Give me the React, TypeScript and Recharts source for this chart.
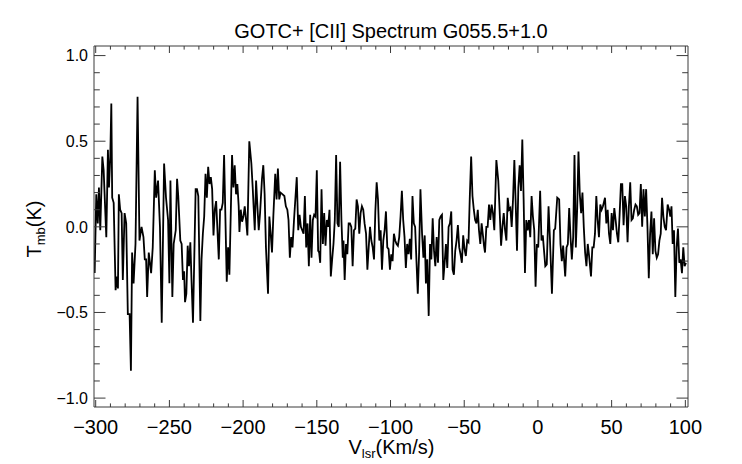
import React from "react";
import { LineChart, Line, XAxis, YAxis } from "recharts";

// ---- data (velocity in km/s, Tmb in K) ----
const velA = [
  -300.7, -299.6, -298.6, -297.8, -296.9, -295.5, -294.6, -292.8, -291.7, -291.0,
  -290.1, -289.4, -288.8, -287.8, -286.5, -285.6, -284.9, -284.3, -283.4, -282.4,
  -281.6, -280.4, -279.3, -278.2, -277.0, -276.1, -275.3, -274.3, -273.0, -271.6,
  -270.3, -268.9, -267.6, -266.7, -265.8, -265.1, -264.0, -262.4, -261.3, -259.9,
  -259.0, -257.7, -256.4, -255.2, -253.6, -252.3, -250.9, -250.0, -249.3,
];
const tmbA = [
  -0.27, 0.19, 0.02, 0.23, -0.02, 0.41, 0.33, -0.06, 0.45, 0.23,
  0.41, 0.72, 0.17, 0.14, -0.37, -0.29, -0.36, 0.19, 0.1, 0.08,
  -0.31, 0.08, 0.02, -0.51, -0.51, -0.84, -0.15, -0.33, -0.1, 0.76,
  -0.08, 0.0, -0.06, -0.19, -0.19, -0.41, -0.15, -0.27, -0.12, 0.33,
  0.17, 0.27, 0.0, -0.56, 0.37, 0.17, 0.04, -0.33, 0.27,
];

const velB = [
  -248.0, -247.1, -245.7, -244.8, -244.0, -242.6, -241.7, -240.8, -240.0, -239.4,
  -238.5, -237.6, -236.7, -235.8, -235.0, -234.0, -232.2, -231.3, -230.4, -229.0,
  -228.2, -227.3, -226.4, -225.5, -224.6, -223.7, -222.8, -221.9, -221.0, -220.1,
  -219.2, -218.3, -216.5, -215.6, -214.7, -213.8, -212.9, -211.1, -210.2, -209.3,
  -207.5, -206.6, -205.7, -204.8, -203.9, -203.0, -202.5, -201.6, -200.7, -199.8,
  -198.9, -198.0, -197.1, -195.8, -194.4, -193.5, -192.1, -191.2, -190.3, -189.4,
  -188.5, -187.2, -186.3, -185.4, -184.5, -183.1, -182.2, -181.3, -180.4, -179.5,
  -178.2, -177.3, -176.4, -175.5, -174.6, -173.2, -172.0, -171.0, -170.0, -169.2,
  -168.3, -167.4, -166.5, -165.4, -163.6,
];
const tmbB = [
  -0.41, -0.1, -0.02, 0.28, 0.18, -0.08, -0.1, -0.31, -0.26, -0.44,
  -0.39, -0.11, -0.23, -0.09, -0.31, -0.56, 0.22, 0.22, 0.18, -0.55,
  -0.19, -0.04, 0.06, 0.31, 0.17, 0.35, 0.25, 0.29, 0.22, -0.05,
  0.1, 0.15, -0.19, 0.1, 0.1, 0.14, 0.42, -0.32, -0.12, -0.28,
  0.42, 0.23, 0.36, 0.19, 0.25, 0.12, -0.03, 0.1, 0.03, 0.06,
  0.12, 0.04, -0.05, 0.5, 0.37, 0.23, -0.02, 0.27, 0.12, -0.02,
  0.08, 0.28, 0.36, 0.19, -0.12, -0.39, 0.06, -0.04, -0.15, 0.06,
  0.31, 0.16, 0.34, 0.16, 0.2, 0.19, 0.18, 0.12, 0.1, 0.04,
  -0.18, -0.06, -0.12, 0.05, 0.29,
];

const velC = [
  -162.6, -161.7, -160.8, -159.9, -159.0, -158.1, -157.2, -156.3, -155.4, -154.5,
  -153.6, -152.7, -151.8, -150.9, -150.0, -149.1, -148.4, -147.7, -146.8, -145.9,
  -145.0, -144.1, -143.2, -142.3, -141.4, -140.5, -139.6, -138.7, -137.8, -136.9,
  -136.0, -135.1, -134.2, -133.3, -132.4, -131.9, -131.1, -130.2, -129.3, -128.4,
  -127.5, -126.6, -125.7, -124.8, -123.9, -123.0, -122.1, -121.2, -120.3, -119.4,
  -118.5, -117.6, -116.6, -115.7, -114.8, -113.9, -113.0, -112.1, -111.2, -110.3,
  -109.4, -108.5, -107.6, -106.7, -105.8, -104.9, -104.0, -103.1, -102.2, -101.3,
  -100.4, -99.5, -98.6, -97.7, -96.8, -95.9, -95.0, -94.1, -93.2, -92.3,
  -91.4, -90.5, -89.6, -88.7, -87.8, -86.9, -86.0, -85.1, -84.2, -83.3,
  -82.4, -81.5, -80.6, -79.7,
];
const tmbC = [
  -0.02, 0.07, 0.0, -0.02, -0.04, 0.18, -0.12, 0.02, -0.23, 0.07,
  -0.18, 0.04, 0.07, 0.06, 0.33, -0.14, -0.15, -0.21, 0.22, -0.1,
  0.08, -0.11, 0.04, 0.0, 0.1, -0.29, -0.19, -0.1, 0.04, 0.42,
  0.02, 0.0, 0.38, 0.04, -0.18, -0.08, -0.31, -0.1, -0.16, 0.02,
  0.02, 0.0, -0.23, -0.02, -0.01, 0.16, 0.12, -0.04, 0.08, 0.12,
  0.1, 0.02, -0.04, -0.25, -0.12, 0.0, -0.08, -0.12, -0.19, 0.09,
  0.26, 0.16, -0.08, -0.02, -0.25, -0.08, -0.02, 0.09, -0.12, -0.13,
  -0.25, -0.16, -0.2, -0.04, -0.08, -0.1, -0.11, -0.06, 0.06, 0.21,
  0.04, -0.06, -0.24, -0.1, -0.16, -0.07, -0.19, 0.18, 0.02, 0.0,
  -0.2, -0.39, -0.15, 0.22,
];

const velD = [
  -78.6, -77.7, -76.8, -76.0, -75.1, -74.1, -73.2, -72.3, -71.4, -70.5,
  -69.6, -68.7, -67.8, -66.9, -66.0, -65.1, -64.2, -63.3, -62.4, -61.5,
  -60.6, -59.7, -58.8, -57.9, -57.0, -56.1, -55.2, -54.3, -53.4, -52.5,
  -51.6, -50.7, -49.8, -48.9, -48.0, -47.1, -46.2, -45.3, -44.4, -43.5,
  -42.6, -41.7, -40.8, -40.0, -39.1, -38.2, -37.3, -36.6, -35.9, -35.0,
  -34.1, -33.2, -32.3, -31.4, -30.5, -29.6, -28.2, -26.9, -26.0, -25.0,
  -24.1, -23.2, -22.3, -21.4, -20.5, -19.6, -18.7, -17.8, -16.9, -16.0,
  -15.1, -14.2, -13.3, -12.4, -11.5, -10.6, -9.7, -8.8, -7.9, -7.0,
  -6.1, -5.2, -4.3, -3.4, -2.5, -1.6, -0.7, 0.2, 1.5, 2.4,
  3.3,
];
const tmbD = [
  -0.04, -0.18, -0.05, -0.33, -0.19, -0.52, -0.1, -0.19, 0.05, -0.14,
  -0.23, -0.06, -0.21, 0.04, 0.06, 0.07, -0.31, -0.21, -0.1, -0.24,
  0.0, 0.02, 0.09, -0.25, -0.28, -0.14, -0.08, 0.01, -0.12, -0.16,
  -0.21, -0.05, -0.13, -0.17, -0.08, -0.09, 0.18, 0.41, 0.18, 0.1,
  0.04, 0.02, 0.1, -0.02, -0.1, 0.02, -0.05, -0.11, -0.15, 0.0,
  0.0, 0.13, 0.04, 0.13, 0.08, -0.02, 0.39, 0.27, 0.1, -0.11,
  0.0, 0.08, -0.02, -0.08, 0.17, 0.1, 0.11, 0.0, 0.16, 0.39,
  0.14, -0.14, 0.23, 0.36, 0.21, 0.51, 0.16, -0.27, 0.04, -0.02,
  0.04, -0.06, 0.18, 0.06, -0.02, -0.35, -0.1, -0.12, 0.21, -0.08,
  -0.05,
];

const velE = [
  5.0, 6.0, 7.2, 8.1, 9.5, 10.8, 11.7, 13.1, 14.4, 15.3,
  16.2, 17.1, 18.5, 19.4, 20.3, 21.2, 22.1, 23.0, 23.9, 24.8,
  25.7, 26.6, 27.5, 28.4, 29.3, 30.2, 31.1, 32.0, 32.9, 33.8,
  34.7, 36.0, 36.9, 37.8, 38.7, 39.6, 40.5, 41.4, 42.3, 43.2,
  44.1, 45.5, 46.4, 47.3, 48.2, 49.1, 50.0, 50.9, 51.8, 52.7,
  53.6, 54.5, 55.4, 56.3, 57.2, 58.1, 59.0, 59.9, 60.8, 61.7,
  62.6, 63.5, 64.4, 65.3, 66.2, 67.1, 68.0, 68.9, 69.8, 70.7,
  71.6, 72.5, 73.4, 74.3, 75.2, 76.1, 77.0, 77.9, 78.8, 79.7,
  80.6, 81.5, 82.4, 83.3, 84.2, 85.1, 86.0, 86.9, 88.0, 89.0,
  89.8, 90.6, 91.4, 92.3, 93.2, 94.1, 95.0, 95.9, 96.8, 97.7,
  98.6, 99.5, 100.4,
];
const tmbE = [
  -0.23, -0.22, 0.12, -0.06, -0.39, -0.02, -0.01, 0.17, 0.16, -0.1,
  -0.2, -0.11, -0.29, -0.12, -0.1, 0.11, -0.06, -0.19, -0.06, 0.42,
  -0.12, 0.1, 0.44, 0.19, 0.08, 0.2, 0.0, -0.15, -0.23, -0.1,
  -0.17, -0.29, -0.12, -0.12, -0.04, 0.18, 0.04, -0.06, 0.13, 0.1,
  0.12, 0.17, 0.02, 0.1, -0.04, -0.1, 0.08, -0.02, 0.11, 0.04,
  -0.04, -0.09, 0.07, 0.25, 0.25, 0.01, 0.18, 0.12, -0.09, 0.12,
  0.26, 0.04, 0.05, 0.1, 0.13, 0.12, 0.07, 0.08, 0.25, 0.0,
  0.22, 0.06, 0.22, 0.0, -0.3, -0.04, 0.09, -0.16, 0.05, -0.14,
  -0.18, -0.16, -0.08, -0.04, 0.17, 0.06, 0.0, -0.02, 0.13, 0.1,
  0.06, 0.12, -0.1, -0.02, -0.41, -0.12, -0.01, -0.21, -0.19, -0.27,
  -0.12, -0.23, -0.21,
];

// ---- axis ticks ----
const xTicks = [
  -300, -290, -280, -270, -260, -250, -240, -230, -220, -210,
  -200, -190, -180, -170, -160, -150, -140, -130, -120, -110,
  -100, -90, -80, -70, -60, -50, -40, -30, -20, -10,
  0, 10, 20, 30, 40, 50, 60, 70, 80, 90, 100,
];
const xLabelTicks = [-300, -250, -200, -150, -100, -50, 0, 50, 100];
const yTicks = [
  -1.0, -0.9, -0.8, -0.7, -0.6, -0.5, -0.4, -0.3, -0.2, -0.1,
  0.0, 0.1, 0.2, 0.3, 0.4, 0.5, 0.6, 0.7, 0.8, 0.9, 1.0,
];
const yLabelTicks = [-1.0, -0.5, 0.0, 0.5, 1.0];

const TITLE = "GOTC+ [CII] Spectrum G055.5+1.0";

// ---- build rows ----
const sections: [number[], number[]][] = [
  [velA, tmbA],
  [velB, tmbB],
  [velC, tmbC],
  [velD, tmbD],
  [velE, tmbE],
];
const rows: { v: number; t: number }[] = [];
sections.forEach(([vs, ts]) => {
  const n = Math.min(vs.length, ts.length);
  for (let i = 0; i < n; i++) rows.push({ v: vs[i], t: ts[i] });
});

// ---- styling ----
const FONT = '"Liberation Sans", Arial, Helvetica, sans-serif';
const W = 720;
const H = 454;
// plot area in svg coords: left 86, right 680, top 38, bottom 399
const MARGIN = { top: 37, right: 39, bottom: 54, left: 85 };
const FRAME = "#3a3a3a";
const X_DOMAIN: [number, number] = [-301.15, 101.8];
const Y_DOMAIN: [number, number] = [-1.052, 1.056];

const near = (a: number, b: number) => Math.abs(a - b) < 1e-6;
const isMajorX = (v: number) => xLabelTicks.some((m) => near(m, v));
const isMajorY = (v: number) => yLabelTicks.some((m) => near(m, v));
const fmt = (v: number, d: number) => {
  const s = Math.abs(v).toFixed(d);
  return v < -1e-9 ? "\u2212" + s : s;
};

const BottomTick = (p: any) => {
  const { x, y, payload } = p;
  const major = isMajorX(payload.value);
  return (
    <g>
      <line x1={x} x2={x} y1={y} y2={y - (major ? 7 : 3.6)} stroke={FRAME} strokeWidth={1} />
      {major && (
        <text x={x} y={y + 27} textAnchor="middle" fontSize={20} fontFamily={FONT} fill="#000">
          {fmt(payload.value, 0)}
        </text>
      )}
    </g>
  );
};

const TopTick = (p: any) => {
  const { x, y, payload } = p;
  const major = isMajorX(payload.value);
  return <line x1={x} x2={x} y1={y} y2={y + (major ? 7 : 3.6)} stroke={FRAME} strokeWidth={1} />;
};

const LeftTick = (p: any) => {
  const { x, y, payload } = p;
  const major = isMajorY(payload.value);
  return (
    <g>
      <line x1={x} x2={x + (major ? 11.5 : 5.8)} y1={y} y2={y} stroke={FRAME} strokeWidth={1} />
      {major && (
        <text x={x - 6} y={y} dy="0.36em" textAnchor="end" fontSize={16} fontFamily={FONT} fill="#000">
          {fmt(payload.value, 1)}
        </text>
      )}
    </g>
  );
};

const RightTick = (p: any) => {
  const { x, y, payload } = p;
  const major = isMajorY(payload.value);
  return <line x1={x} x2={x - (major ? 11.5 : 5.8)} y1={y} y2={y} stroke={FRAME} strokeWidth={1} />;
};

export default function App() {
  return (
    <div style={{ position: "relative", width: W, height: H }}>
      <LineChart width={W} height={H} data={rows} margin={MARGIN}>
        <XAxis
          xAxisId="bottom"
          dataKey="v"
          type="number"
          orientation="bottom"
          domain={X_DOMAIN}
          allowDataOverflow
          ticks={xTicks}
          interval={0}
          height={1}
          tickSize={0}
          tickMargin={0}
          tickLine={false}
          tick={BottomTick}
          axisLine={{ stroke: FRAME, strokeWidth: 1 }}
        />
        <XAxis
          xAxisId="top"
          dataKey="v"
          type="number"
          orientation="top"
          domain={X_DOMAIN}
          allowDataOverflow
          ticks={xTicks}
          interval={0}
          height={1}
          tickSize={0}
          tickMargin={0}
          tickLine={false}
          tick={TopTick}
          axisLine={{ stroke: FRAME, strokeWidth: 1 }}
        />
        <YAxis
          yAxisId="left"
          type="number"
          orientation="left"
          domain={Y_DOMAIN}
          allowDataOverflow
          ticks={yTicks}
          interval={0}
          width={1}
          tickSize={0}
          tickMargin={0}
          tickLine={false}
          tick={LeftTick}
          axisLine={{ stroke: FRAME, strokeWidth: 1 }}
        />
        <YAxis
          yAxisId="right"
          type="number"
          orientation="right"
          domain={Y_DOMAIN}
          allowDataOverflow
          ticks={yTicks}
          interval={0}
          width={1}
          tickSize={0}
          tickMargin={0}
          tickLine={false}
          tick={RightTick}
          axisLine={{ stroke: FRAME, strokeWidth: 1 }}
        />
        <Line
          xAxisId="top"
          yAxisId="right"
          type="linear"
          dataKey="t"
          stroke="none"
          dot={false}
          activeDot={false}
          isAnimationActive={false}
        />
        <Line
          xAxisId="bottom"
          yAxisId="left"
          type="linear"
          dataKey="t"
          stroke="#000"
          strokeWidth={1.8}
          strokeLinejoin="miter"
          dot={false}
          activeDot={false}
          isAnimationActive={false}
        />
      </LineChart>
      <svg
        width={W}
        height={H}
        style={{ position: "absolute", left: 0, top: 0, pointerEvents: "none" }}
      >
        <text x={383} y={30} textAnchor="middle" fontSize={20} fontFamily={FONT} fill="#000">
          {TITLE}
        </text>
        <text x={383.5} y={446} textAnchor="middle" fontSize={20} fontFamily={FONT} fill="#000">
          V
          <tspan fontSize={13} dy={4}>
            lsr
          </tspan>
          <tspan dy={-4}>(Km/s)</tspan>
        </text>
        <text
          x={33}
          y={221}
          transform="rotate(-90 33 221)"
          textAnchor="middle"
          fontSize={20}
          fontFamily={FONT}
          fill="#000"
        >
          T
          <tspan fontSize={13} dy={4}>
            mb
          </tspan>
          <tspan dy={-4}>(K)</tspan>
        </text>
      </svg>
    </div>
  );
}
